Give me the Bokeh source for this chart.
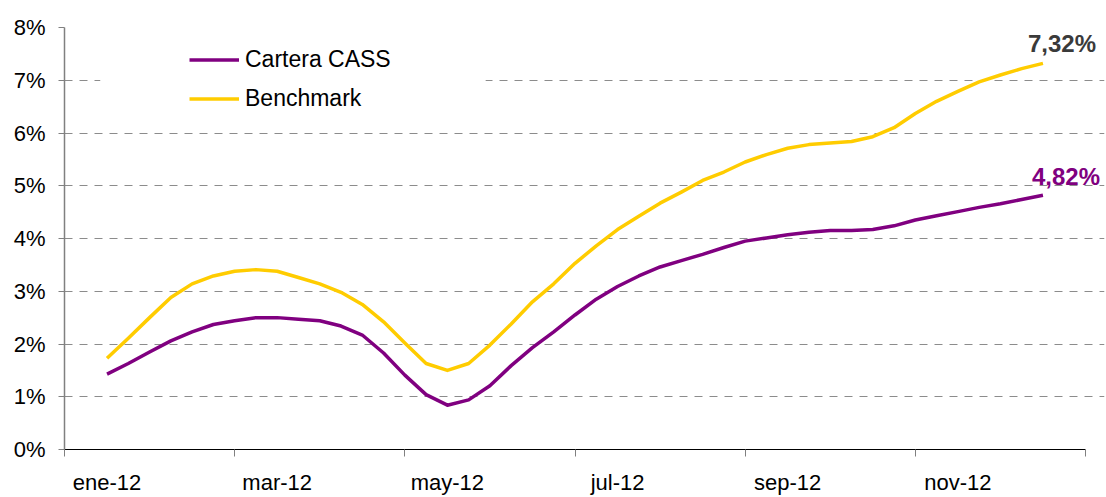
from bokeh.plotting import figure
from bokeh.models import FixedTicker, Range1d, Legend, LegendItem, Label, BoxAnnotation
from bokeh.embed import file_html
from bokeh.resources import INLINE

# month position (0 = start of ene-12, 12 = end of dic-12), roughly weekly samples
posicion = [0.5, 0.75, 1.0, 1.25, 1.5, 1.75, 2.0, 2.25, 2.5, 2.75,
            3.0, 3.25, 3.5, 3.75, 4.0, 4.25, 4.5, 4.75, 5.0, 5.25,
            5.5, 5.75, 6.0, 6.25, 6.5, 6.75, 7.0, 7.25, 7.5, 7.75,
            8.0, 8.25, 8.5, 8.75, 9.0, 9.25, 9.5, 9.75, 10.0, 10.25,
            10.5, 10.75, 11.0, 11.25, 11.5]

cartera = [1.43, 1.63, 1.85, 2.06, 2.23, 2.37, 2.44, 2.50, 2.50, 2.47,
           2.44, 2.34, 2.17, 1.83, 1.41, 1.04, 0.84, 0.94, 1.21, 1.59,
           1.93, 2.23, 2.55, 2.85, 3.09, 3.29, 3.46, 3.58, 3.70, 3.83,
           3.95, 4.01, 4.07, 4.12, 4.15, 4.15, 4.17, 4.24, 4.35, 4.43,
           4.51, 4.59, 4.66, 4.74, 4.82]

benchmark = [1.73, 2.11, 2.50, 2.88, 3.14, 3.29, 3.38, 3.41, 3.38, 3.26,
             3.14, 2.98, 2.75, 2.42, 2.02, 1.63, 1.50, 1.63, 1.98, 2.38,
             2.80, 3.14, 3.53, 3.86, 4.17, 4.42, 4.67, 4.88, 5.10, 5.26,
             5.45, 5.59, 5.71, 5.78, 5.81, 5.84, 5.93, 6.10, 6.37, 6.60,
             6.79, 6.97, 7.10, 7.22, 7.32]

mes_labels = ["ene-12", "mar-12", "may-12", "jul-12", "sep-12", "nov-12"]
mes_label_pos = [0.5, 2.5, 4.5, 6.5, 8.5, 10.5]
mes_limites = [0, 2, 4, 6, 8, 10, 12]
y_ticks = [0, 1, 2, 3, 4, 5, 6, 7, 8]

PURPLE = "#800080"
YELLOW = "#FFCC00"
FONT = "Liberation Sans"

W, H = 1106, 497
LEFT, TOP, BOTTOM, RIGHT = 64, 27, 43, 2
px_per_month = (1085 - LEFT) / 12.0
x_end = (W - LEFT - RIGHT) / px_per_month

p = figure(width=W, height=H, output_backend="svg", toolbar_location=None,
           x_range=Range1d(0, x_end), y_range=Range1d(0, 8),
           min_border_left=LEFT, min_border_right=RIGHT, min_border_top=TOP,
           min_border_bottom=BOTTOM)
p.outline_line_color = None
p.background_fill_color = "white"
p.border_fill_color = "white"

# grid
p.xgrid.visible = False
yt = FixedTicker(ticks=y_ticks)
p.yaxis.ticker = yt
p.ygrid.ticker = yt
p.ygrid.bounds = (0, 12)
p.ygrid.grid_line_color = "#8c8c8c"
p.ygrid.grid_line_dash = "8 7"
p.ygrid.grid_line_width = 1

# y axis
p.yaxis.major_label_overrides = {v: f"{v}%" for v in y_ticks}
p.yaxis.axis_line_color = "#808080"
p.yaxis.axis_line_width = 1.5
p.yaxis.major_tick_line_color = "#808080"
p.yaxis.major_tick_out = 6
p.yaxis.major_tick_in = 0
p.yaxis.minor_tick_line_color = None
p.yaxis.major_label_standoff = 13
p.yaxis.major_label_text_font = FONT
p.yaxis.major_label_text_font_size = "22px"
p.yaxis.major_label_text_color = "black"

# x axis
p.xaxis.bounds = (0, 12)
p.xaxis.ticker = FixedTicker(ticks=mes_label_pos, minor_ticks=mes_limites)
p.xaxis.major_label_overrides = {v: t for v, t in zip(mes_label_pos, mes_labels)}
p.xaxis.axis_line_color = "black"
p.xaxis.axis_line_width = 1
p.xaxis.major_tick_line_color = None
p.xaxis.major_tick_out = 0
p.xaxis.major_tick_in = 0
p.xaxis.minor_tick_line_color = "#808080"
p.xaxis.minor_tick_out = 7
p.xaxis.minor_tick_in = 0
p.xaxis.major_label_standoff = 13
p.xaxis.major_label_text_font = FONT
p.xaxis.major_label_text_font_size = "22px"
p.xaxis.major_label_text_color = "black"

# white box behind legend (covers gridline like the original)
p.add_layout(BoxAnnotation(left=0.42, right=4.95, bottom=6.55, top=7.45,
                           fill_color="white", fill_alpha=1, line_color=None))

r1 = p.line(posicion, cartera, line_color=PURPLE, line_width=3.5, line_join="round")
r2 = p.line(posicion, benchmark, line_color=YELLOW, line_width=3.5, line_join="round")

legend = Legend(items=[LegendItem(label="Cartera CASS", renderers=[r1]),
                       LegendItem(label="Benchmark", renderers=[r2])],
                location=(125, 331), orientation="vertical",
                glyph_width=50, glyph_height=39, label_height=39, spacing=0,
                label_standoff=6, padding=5, margin=0,
                label_text_font=FONT, label_text_font_size="23px",
                label_text_color="black", border_line_color=None,
                background_fill_alpha=0)
p.add_layout(legend)

def fmt(v):
    return f"{v:.2f}%".replace(".", ",")

p.add_layout(Label(x=posicion[-1], y=benchmark[-1], x_offset=-15, y_offset=20,
                   text=fmt(benchmark[-1]), text_font=FONT, text_font_size="24px",
                   text_font_style="bold", text_color="#3a3a3a",
                   text_baseline="alphabetic", text_align="left"))
p.add_layout(Label(x=posicion[-1], y=cartera[-1], x_offset=-11, y_offset=19,
                   text=fmt(cartera[-1]), text_font=FONT, text_font_size="24px",
                   text_font_style="bold", text_color=PURPLE,
                   text_baseline="alphabetic", text_align="left"))

open("out.html", "w").write(file_html(p, INLINE))
